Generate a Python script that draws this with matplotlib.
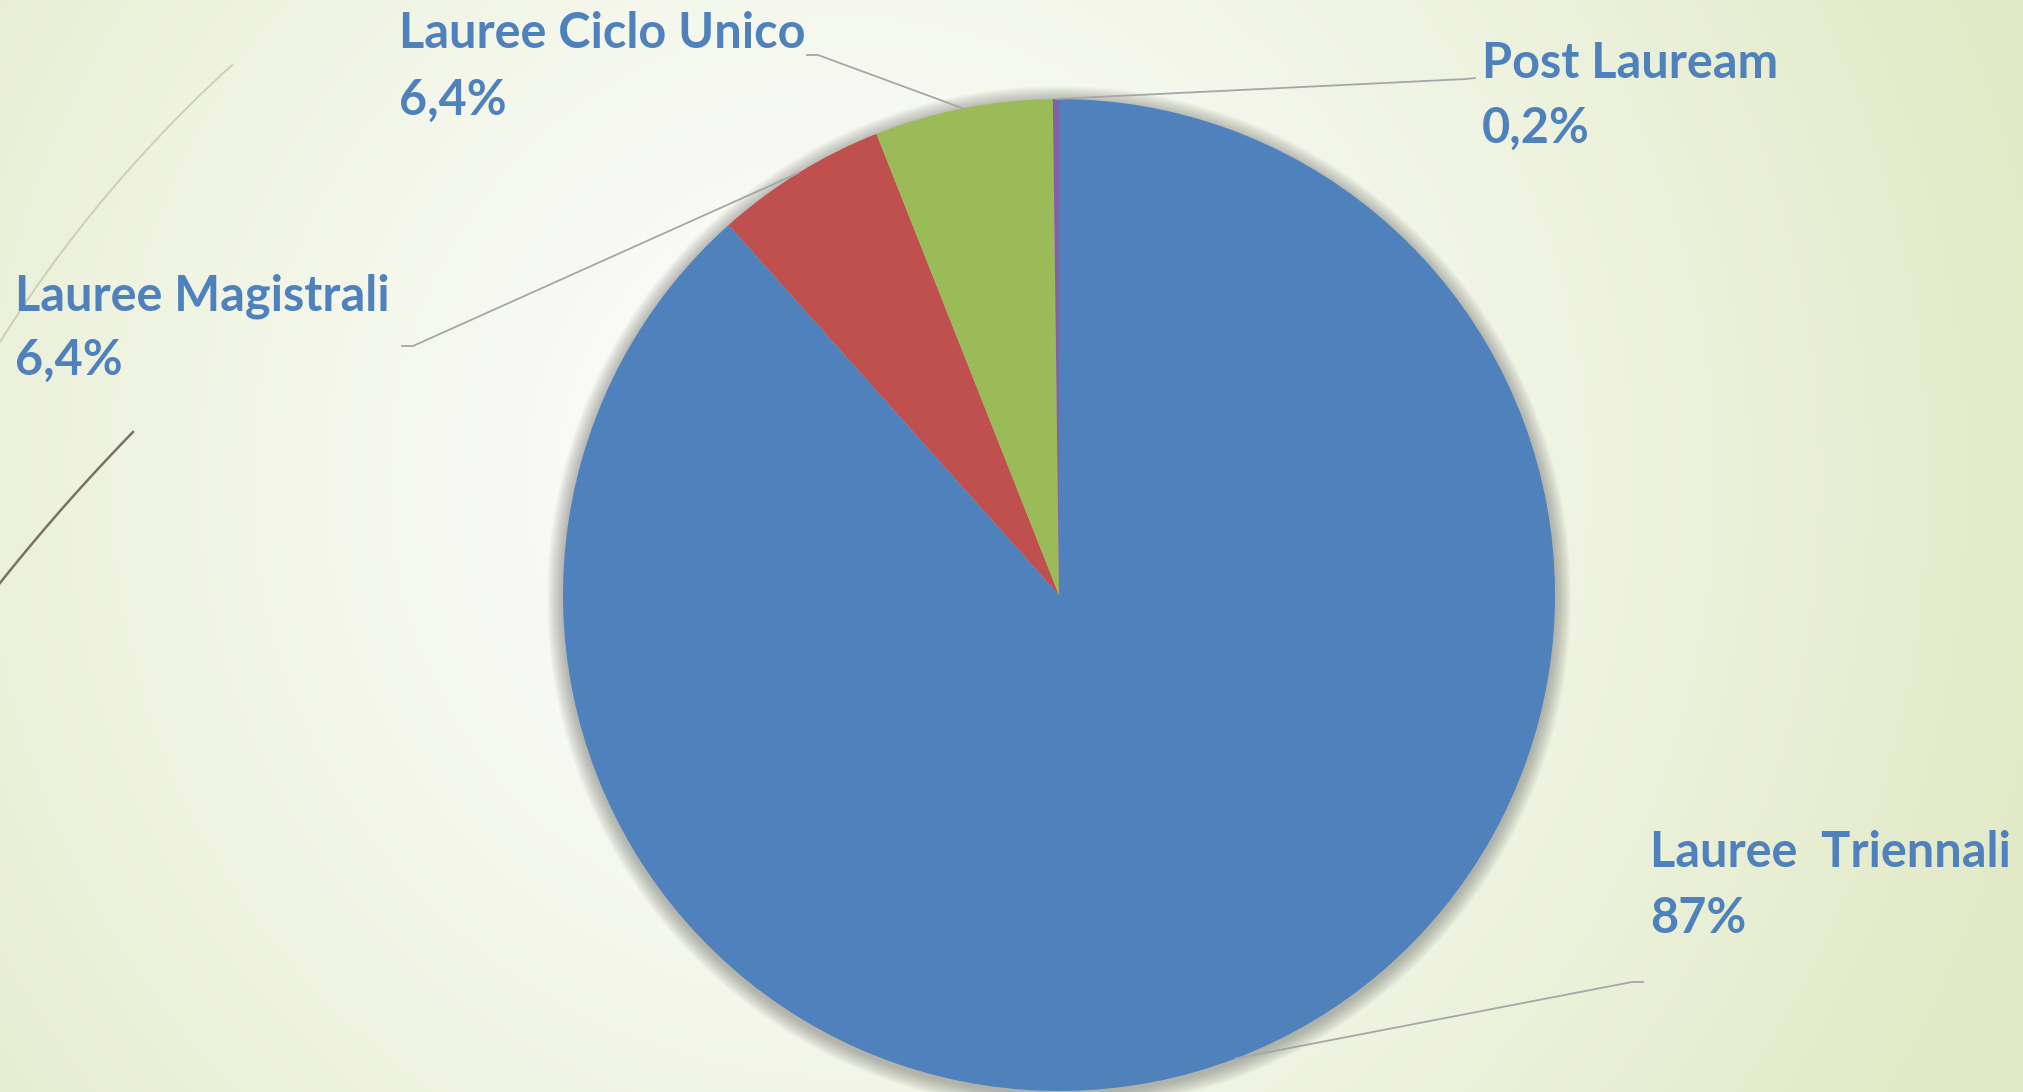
import numpy as np
import matplotlib
matplotlib.use('Agg')
import matplotlib.pyplot as plt
from matplotlib.patches import Circle

# data
categories = ['Lauree  Triennali', 'Lauree Magistrali', 'Lauree Ciclo Unico', 'Post Lauream']
values = [88.4, 5.6, 5.8, 0.2]
pct_labels = ['87%', '6,4%', '6,4%', '0,2%']
colors = ['#4f81bd', '#c0504d', '#9bbb59', '#8064a2']

W, H = 2024, 1092
fig = plt.figure(figsize=(W / 100, H / 100), dpi=100)
ax = fig.add_axes([0, 0, 1, 1])
ax.set_xlim(0, W)
ax.set_ylim(0, H)
ax.set_aspect('equal')
ax.axis('off')

# radial background gradient (white centre -> pale green edges)
yy, xx = np.mgrid[0:H, 0:W]
d = np.sqrt((xx - 850) ** 2 + (yy - (H - 480)) ** 2) / 1250
d = np.clip(d, 0, 1) ** 1.4
c0 = np.array([0xfc, 0xfd, 0xfa]) / 255
c1 = np.array([0xe1, 0xe9, 0xc5]) / 255
bg = c0 + (c1 - c0) * d[..., None]
ax.imshow(bg, extent=[0, W, 0, H], origin='lower', zorder=0)

# decorative wisps on the left
t = np.linspace(0, 1, 100)
x = 2 * (1 - t) * t * 95 + t ** 2 * 232
y = (1 - t) ** 2 * (H - 342) + 2 * (1 - t) * t * (H - 190) + t ** 2 * (H - 65)
ax.plot(x, y, color='#cdd0b6', lw=1.4, zorder=1)
x = 2 * (1 - t) * t * 62 + t ** 2 * 133
y = (1 - t) ** 2 * (H - 583) + 2 * (1 - t) * t * (H - 505) + t ** 2 * (H - 432)
ax.plot(x, y, color='#7a7262', lw=1.8, zorder=1)

cx, cy, r = 1059, H - 595, 496

# soft shadow around the pie
for k in range(16):
    ax.add_patch(Circle((cx, cy - 3), r + 16 - k, color='#606060', alpha=0.032, lw=0, zorder=2))

wedges, _ = ax.pie(values, colors=colors, startangle=90, counterclock=False,
                   center=(cx, cy), radius=r, wedgeprops=dict(linewidth=0),
                   frame=True)
for w in wedges:
    w.set_zorder(3)
ax.set_xlim(0, W)
ax.set_ylim(0, H)
ax.axis('off')

plt.rcParams['font.family'] = ['Lato', 'DejaVu Sans']
txt_color = '#4f81bd'
fs = 35

# label layout: (text x, name baseline, pct baseline, elbow start, elbow end)  in image px
layout = [
    (1650, 867, 933, (1643, 982), (1632, 982)),
    (15, 310, 375, (402, 346), (413, 346)),
    (399, 48, 115, (807, 55), (818, 55)),
    (1482, 78, 143, (1475, 78), (1466, 79)),
]

for w, name, pct, (tx, nb, pb, e1, e2) in zip(wedges, categories, pct_labels, layout):
    ax.text(tx, H - nb, name, color=txt_color, fontsize=fs, fontweight='bold',
            ha='left', va='baseline', zorder=5)
    ax.text(tx, H - pb, pct, color=txt_color, fontsize=fs, fontweight='bold',
            ha='left', va='baseline', zorder=5)
    mid = np.deg2rad((w.theta1 + w.theta2) / 2)
    px, py = cx + r * np.cos(mid), cy + r * np.sin(mid)
    ax.plot([e1[0], e2[0], px], [H - e1[1], H - e2[1], py], color='#a6a6a6', lw=1.3, zorder=4)

fig.savefig('out.png', dpi=100)
